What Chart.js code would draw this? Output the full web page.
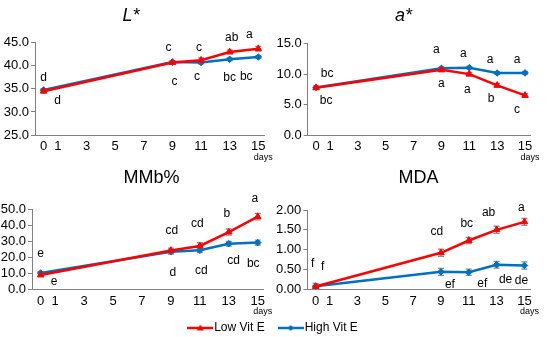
<!DOCTYPE html>
<html><head><meta charset="utf-8">
<script src="https://cdn.jsdelivr.net/npm/chart.js@4.4.0/dist/chart.umd.min.js"></script>
<style>
html,body{margin:0;padding:0;background:#fff;width:550px;height:337px;overflow:hidden;position:relative}
canvas{position:absolute}
</style></head><body>
<script>
// ---------------- data ----------------
const days = [0, 9, 11, 13, 15];
const xTickValues = [0, 1, 3, 5, 7, 9, 11, 13, 15];
const seriesNames = ['Low Vit E', 'High Vit E'];
const panelTitles = ['L*', 'a*', 'MMb%', 'MDA'];

const lLow = [34.5, 40.7, 41.2, 43.0, 43.7];
const lHigh = [34.75, 40.8, 40.7, 41.4, 41.9];
const lLowErr = [0.4, 0.3, 0.5, 0.4, 0.5];
const lHighErr = [0.3, 0.3, 0.3, 0.3, 0.3];
const lLowLetters = ['d', 'c', 'c', 'ab', 'a'];
const lHighLetters = ['d', 'c', 'c', 'bc', 'bc'];
const lTicks = [25, 30, 35, 40, 45];

const aLow = [7.77, 10.7, 10.0, 8.16, 6.5];
const aHigh = [7.8, 10.95, 11.06, 10.18, 10.2];
const aLowErr = [0.3, 0.3, 0.3, 0.3, 0.3];
const aHighErr = [0.2, 0.2, 0.2, 0.2, 0.2];
const aLowLetters = ['bc', 'a', 'a', 'b', 'c'];
const aHighLetters = ['bc', 'a', 'a', 'a', 'a'];
const aTicks = [0, 5, 10, 15];

const mmbLow = [8.96, 24.2, 27.1, 35.8, 45.4];
const mmbHigh = [10.2, 23.5, 24.4, 28.5, 29.2];
const mmbLowErr = [1.0, 1.5, 2.0, 2.0, 2.0];
const mmbHighErr = [1.0, 1.5, 1.5, 1.5, 1.5];
const mmbLowLetters = ['e', 'cd', 'cd', 'b', 'a'];
const mmbHighLetters = ['e', 'd', 'cd', 'cd', 'bc'];
const mmbTicks = [0, 10, 20, 30, 40, 50];

const mdaLow = [0.07, 0.92, 1.23, 1.50, 1.70];
const mdaHigh = [0.075, 0.44, 0.43, 0.62, 0.60];
const mdaLowErr = [0.03, 0.09, 0.08, 0.09, 0.09];
const mdaHighErr = [0.075, 0.09, 0.08, 0.085, 0.09];
const mdaLowLetters = ['f', 'cd', 'bc', 'ab', 'a'];
const mdaHighLetters = ['f', 'ef', 'ef', 'de', 'de'];
const mdaTicks = [0, 0.5, 1.0, 1.5, 2.0];

// ---------------- layout & style ----------------
const FONT = "'Liberation Sans', Arial, sans-serif";
const RED = '#ff0000', BLUE = '#0070c0', AXIS = '#808080', ERR = '#8c8c8c';
const layout = [
  {canvas: [0, 0, 275, 170], area: [35, 42.7, 264, 135], title: [131, 16], italic: true, dec: 1,
   lowOff: [[14, 10], [-4, -14.5], [-2, -13], [2, -14], [-9, -14]],
   highOff: [[0, -12], [2, 20], [-4, 14.5], [0, 18], [-12, 20]]},
  {canvas: [275, 0, 275, 170], area: [307.7, 43.7, 530.6, 135], title: [403.5, 16], italic: true, dec: 1,
   lowOff: [[10, 13], [0, 13.5], [-2, 16], [-6, 13.4], [-8, 14.6]],
   highOff: [[11, -14], [-5, -19], [-6, -13.6], [-7, -13], [-8, -13.6]]},
  {canvas: [0, 165, 275, 172], area: [32, 209.3, 263.5, 289.3], title: [151.5, 178], italic: false, dec: 1,
   lowOff: [[13.5, 6.7], [1, -19.6], [-2.4, -22.7], [-2, -18.7], [-3, -18.4]],
   highOff: [[0, -19], [2, 20.6], [1.6, 20.4], [4.7, 17.3], [-4.5, 20.7]]},
  {canvas: [275, 165, 275, 172], area: [307.3, 210, 530, 289.3], title: [418.6, 178], italic: false, dec: 2,
   lowOff: [[-3, -23], [-4, -21], [-2, -16.5], [-8, -17], [-3, -14.6]],
   highOff: [[7, -20], [9, 12.4], [13.5, 11], [9, 15.3], [-3, 15.5]]}
];
const X_AXIS_H = 28;

const panelsData = [
  {low: lLow, high: lHigh, lowErr: lLowErr, highErr: lHighErr, lowL: lLowLetters, highL: lHighLetters, ticks: lTicks},
  {low: aLow, high: aHigh, lowErr: aLowErr, highErr: aHighErr, lowL: aLowLetters, highL: aHighLetters, ticks: aTicks},
  {low: mmbLow, high: mmbHigh, lowErr: mmbLowErr, highErr: mmbHighErr, lowL: mmbLowLetters, highL: mmbHighLetters, ticks: mmbTicks},
  {low: mdaLow, high: mdaHigh, lowErr: mdaLowErr, highErr: mdaHighErr, lowL: mdaLowLetters, highL: mdaHighLetters, ticks: mdaTicks}
];

const decoPlugin = {
  id: 'deco',
  beforeDatasetsDraw(chart, args, o) {
    const ctx = chart.ctx, ys = chart.scales.y;
    ctx.save();
    ctx.strokeStyle = ERR; ctx.lineWidth = 1.3;
    [o.lowErr, o.highErr].forEach((errs, i) => {
      const meta = chart.getDatasetMeta(i);
      const vals = chart.data.datasets[i].data;
      meta.data.forEach((pt, j) => {
        const v = vals[j].y, e = errs[j];
        const y1 = ys.getPixelForValue(v + e), y2 = ys.getPixelForValue(v - e);
        ctx.beginPath();
        ctx.moveTo(pt.x, y1); ctx.lineTo(pt.x, y2);
        ctx.moveTo(pt.x - 3, y1); ctx.lineTo(pt.x + 3, y1);
        ctx.moveTo(pt.x - 3, y2); ctx.lineTo(pt.x + 3, y2);
        ctx.stroke();
      });
    });
    ctx.restore();
  },
  afterDraw(chart, args, o) {
    const ctx = chart.ctx, xs = chart.scales.x;
    ctx.save();
    ctx.fillStyle = '#000';
    ctx.textAlign = 'center'; ctx.textBaseline = 'middle';
    ctx.font = '12px ' + FONT;
    [[o.lowL, o.lowOff], [o.highL, o.highOff]].forEach(([letters, offs], i) => {
      const meta = chart.getDatasetMeta(i);
      meta.data.forEach((pt, j) => {
        ctx.fillText(letters[j], pt.x + offs[j][0], pt.y + offs[j][1]);
      });
    });
    ctx.font = (o.italic ? 'italic ' : '') + '18px ' + FONT;
    ctx.fillText(o.title, o.tx, o.ty);
    ctx.font = '9px ' + FONT;
    ctx.fillText('days', xs.getPixelForValue(15) + 5, chart.chartArea.bottom + 22.5);
    ctx.restore();
  }
};

function makePanel(k) {
  const L = layout[k], D = panelsData[k];
  const [cl, ct, cw, ch] = L.canvas;
  const [al, at, ar, ab] = L.area;
  const cv = document.createElement('canvas');
  cv.style.left = cl + 'px'; cv.style.top = ct + 'px';
  cv.style.width = cw + 'px'; cv.style.height = ch + 'px';
  cv.width = cw; cv.height = ch;
  document.body.appendChild(cv);
  const yAxisW = al - cl;
  const pad = {left: 0, top: at - ct, right: cl + cw - ar, bottom: ct + ch - ab - X_AXIS_H};
  const mk = (arr) => days.map((d, i) => ({x: d, y: arr[i]}));
  new Chart(cv, {
    type: 'line',
    data: {
      datasets: [
        {label: seriesNames[0], data: mk(D.low), borderColor: RED, backgroundColor: RED, borderWidth: 2.5,
         pointStyle: 'triangle', pointRadius: 3.8, pointBorderWidth: 1, tension: 0},
        {label: seriesNames[1], data: mk(D.high), borderColor: BLUE, backgroundColor: BLUE, borderWidth: 2.5,
         pointStyle: 'rectRot', pointRadius: 3.3, pointBorderWidth: 1, tension: 0}
      ]
    },
    options: {
      responsive: false, animation: false, devicePixelRatio: 1,
      layout: {padding: pad},
      scales: {
        x: {
          type: 'linear', min: -0.6, max: 15.4,
          afterBuildTicks: (s) => { s.ticks = xTickValues.map(v => ({value: v})); },
          afterFit: (s) => { s.height = X_AXIS_H; },
          grid: {display: false, drawTicks: false},
          border: {display: true, color: AXIS, width: 1},
          ticks: {padding: 4, color: '#000', font: {family: FONT, size: 13}, maxRotation: 0, autoSkip: false,
                  callback: (v) => String(v)}
        },
        y: {
          type: 'linear', min: D.ticks[0], max: D.ticks[D.ticks.length - 1],
          afterBuildTicks: (s) => { s.ticks = D.ticks.map(v => ({value: v})); },
          afterFit: (s) => { s.width = yAxisW; },
          grid: {display: true, drawOnChartArea: false, drawTicks: true, tickLength: 4, color: AXIS},
          border: {display: true, color: AXIS, width: 1},
          ticks: {padding: 2, color: '#000', font: {family: FONT, size: 13}, autoSkip: false,
                  callback: (v) => Number(v).toFixed(L.dec)}
        }
      },
      plugins: {
        legend: {display: false}, tooltip: {enabled: false},
        deco: {lowErr: D.lowErr, highErr: D.highErr, lowL: D.lowL, highL: D.highL,
               lowOff: L.lowOff, highOff: L.highOff, title: panelTitles[k], italic: L.italic,
               tx: L.title[0] - cl, ty: L.title[1] - ct}
      }
    },
    plugins: [decoPlugin]
  });
}
[0, 1, 2, 3].forEach(makePanel);

// ---------------- legend ----------------
function legendIcon(color, style) {
  const c = document.createElement('canvas');
  c.width = 26; c.height = 10;
  const g = c.getContext('2d');
  g.strokeStyle = color; g.fillStyle = color; g.lineWidth = 2.5;
  g.beginPath(); g.moveTo(0, 5); g.lineTo(26, 5); g.stroke();
  g.beginPath();
  if (style === 'triangle') { g.moveTo(13, 1.5); g.lineTo(16.5, 7.5); g.lineTo(9.5, 7.5); }
  else { g.moveTo(13, 2); g.lineTo(16, 5); g.lineTo(13, 8); g.lineTo(10, 5); }
  g.closePath(); g.fill();
  return c;
}
const legCv = document.createElement('canvas');
legCv.style.left = '0px'; legCv.style.top = '304px';
legCv.style.width = '550px'; legCv.style.height = '80px';
legCv.width = 550; legCv.height = 80;
document.body.appendChild(legCv);
const icons = [legendIcon(RED, 'triangle'), legendIcon(BLUE, 'rectRot')];
new Chart(legCv, {
  type: 'line',
  data: {datasets: seriesNames.map((n, i) => ({label: n, data: [], borderColor: i ? BLUE : RED}))},
  options: {
    responsive: false, animation: false, devicePixelRatio: 1,
    layout: {padding: 0},
    scales: {x: {display: false}, y: {display: false}},
    plugins: {
      tooltip: {enabled: false},
      legend: {
        display: true, position: 'top', maxHeight: 200,
        labels: {
          usePointStyle: true, pointStyleWidth: 16, padding: 18, color: '#000',
          font: {family: FONT, size: 12},
          generateLabels: (chart) => chart.data.datasets.map((ds, i) => ({
            text: ds.label, pointStyle: icons[i], fillStyle: 'transparent', strokeStyle: 'transparent',
            lineWidth: 0, hidden: false, datasetIndex: i, fontColor: '#000'
          }))
        }
      }
    }
  }
});
</script>
</body></html>
